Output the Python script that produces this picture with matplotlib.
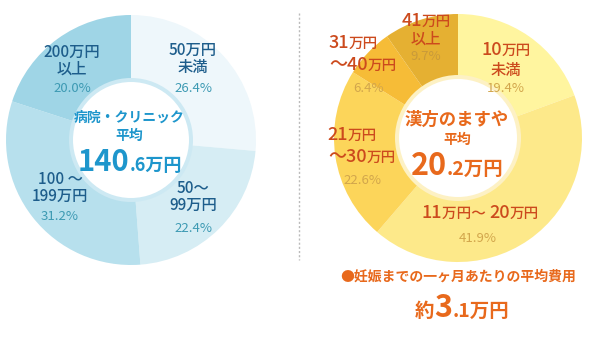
import matplotlib
matplotlib.use("Agg")
import matplotlib.pyplot as plt
from matplotlib.patches import Circle

plt.rcParams['font.family'] = ['Noto Sans CJK JP', 'DejaVu Sans']

# left chart: clinics
clinic_labels = ["50万円\n未満", "50～\n99万円", "100 ～\n199万円", "200万円\n以上"]
clinic_values = [26.4, 22.4, 31.2, 20.0]
clinic_colors = ["#eef7fb", "#d6edf4", "#b7e0ed", "#9fd5e6"]

# right chart: masuya
masuya_labels = ["10万円未満", "11万円～20万円", "21万円～30万円", "31万円～40万円", "41万円以上"]
masuya_values = [19.4, 41.9, 22.6, 6.4, 9.7]
masuya_colors = ["#fff59f", "#fde98a", "#fcd55a", "#f6bc37", "#e5b032"]

W, H = 590, 337
fig = plt.figure(figsize=(W / 100, H / 100), dpi=100)
ax = fig.add_axes([0, 0, 1, 1])

def Y(y):
    return H - y

ax.pie(clinic_values, colors=clinic_colors, startangle=90, counterclock=False,
       center=(131, Y(140)), radius=125, wedgeprops=dict(linewidth=0))
ax.add_patch(Circle((131, Y(140)), 62, color="#cde9f3", lw=0))
ax.add_patch(Circle((131, Y(140)), 58, color="white", lw=0))

ax.pie(masuya_values, colors=masuya_colors, startangle=90, counterclock=False,
       center=(458, Y(138)), radius=124, wedgeprops=dict(linewidth=0))
ax.add_patch(Circle((458, Y(138)), 63, color="#fdf1c4", lw=0))
ax.add_patch(Circle((458, Y(138)), 59, color="white", lw=0))

ax.plot([299, 299], [Y(13), Y(260)], color="#bbbbbb", lw=1, ls=(0, (1.5, 1.5)))

ax.set_xlim(0, W)
ax.set_ylim(0, H)
ax.set_aspect("equal")
ax.axis("off")

renderer = fig.canvas.get_renderer()

def seg_text(x, y, parts, color, weight="medium"):
    # parts: list of (text, fontsize); centered at x, baseline at y
    objs = []
    total = 0
    for s, fs in parts:
        t = ax.text(0, Y(y), s, fontsize=fs, color=color, weight=weight,
                    ha="left", va="baseline")
        w = t.get_window_extent(renderer).width
        objs.append((t, w))
        total += w
    cur = x - total / 2
    for t, w in objs:
        t.set_x(cur)
        cur += w

def label(x, y, s, color, fs=11, weight="medium"):
    ax.text(x, Y(y), s, fontsize=fs, color=color, weight=weight,
            ha="center", va="center", linespacing=1.0)

# left labels
BLUE = "#1d5d8b"
PCT_B = "#3d9ab3"
PFS = 9.5
label(193, 59, clinic_labels[0], BLUE)
label(193, 88, f"{clinic_values[0]}%", PCT_B, fs=PFS, weight="normal")
label(193, 197, clinic_labels[1], BLUE)
label(193, 228, f"{clinic_values[1]}%", PCT_B, fs=PFS, weight="normal")
label(60, 188, clinic_labels[2], BLUE)
label(60, 217, f"{clinic_values[2]}%", PCT_B, fs=PFS, weight="normal")
label(72, 61, clinic_labels[3], BLUE)
label(72, 88, f"{clinic_values[3]:.1f}%", PCT_B, fs=PFS, weight="normal")

CB = "#1e96cc"
label(129, 118, "病院・クリニック", CB, fs=10, weight="bold")
label(129, 136, "平均", CB, fs=10, weight="bold")
seg_text(130, 171, [("140", 21), (".6万円", 13)], CB, weight="bold")

# right labels
RED = "#cc4a1d"
PCT_Y = "#d2a64c"
seg_text(426, 26, [("41", 13), ("万円", 10.5)], RED)
label(426, 39, "以上", RED)
label(426, 57, f"{masuya_values[4]}%", "#c99a3a", fs=PFS, weight="normal")

seg_text(506, 55, [("10", 13), ("万円", 10.5)], RED)
label(506, 71, "未満", RED)
label(506, 89, f"{masuya_values[0]}%", PCT_Y, fs=PFS, weight="normal")

seg_text(353, 48, [("31", 13), ("万円", 10.5)], RED)
seg_text(363, 70, [("～40", 13), ("万円", 10.5)], RED)
label(369, 88, f"{masuya_values[3]}%", PCT_Y, fs=PFS, weight="normal")

seg_text(352, 140, [("21", 13), ("万円", 10.5)], RED)
seg_text(362, 162, [("～30", 13), ("万円", 10.5)], RED)
label(362, 181, f"{masuya_values[2]}%", PCT_Y, fs=PFS, weight="normal")

seg_text(480, 218, [("11", 13), ("万円～ ", 10.5), ("20", 13), ("万円", 10.5)], RED)
label(478, 238, f"{masuya_values[1]}%", PCT_Y, fs=PFS, weight="normal")

OR = "#e8691c"
label(457, 120, "漢方のますや", OR, fs=12.5, weight="bold")
label(457, 140, "平均", OR, fs=10, weight="bold")
seg_text(457, 175, [("20", 22), (".2万円", 14)], OR, weight="bold")

label(458, 277, "●妊娠までの一ヶ月あたりの平均費用", OR, fs=10, weight="bold")
seg_text(462, 317, [("約", 14), ("3", 22), (".1万円", 14)], OR, weight="bold")

fig.savefig("out.png", dpi=100)
